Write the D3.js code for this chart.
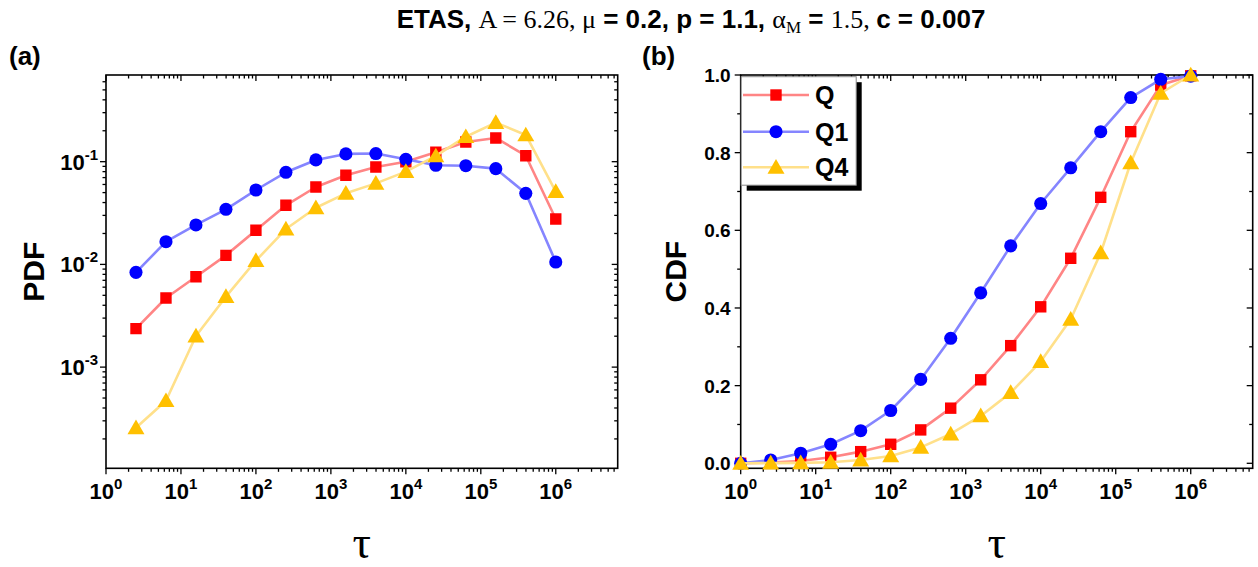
<!DOCTYPE html>
<html><head><meta charset="utf-8">
<script src="https://cdn.jsdelivr.net/npm/d3@7"></script>
<style>
html,body{margin:0;padding:0;background:#fff;}
svg{display:block;}
</style></head>
<body>
<svg id="chart" width="1258" height="567"></svg>
<script>
// ---------------- data ----------------
const tauPDF = [2.512, 6.310, 15.85, 39.81, 100, 251.2, 631.0, 1585, 3981, 10000, 25119, 63096, 158489, 398107, 1000000];
const pdfQ  = [0.00237, 0.00471, 0.00759, 0.01225, 0.0215, 0.0376, 0.0567, 0.0737, 0.0888, 0.100, 0.1235, 0.1556, 0.1703, 0.1143, 0.0277];
const pdfQ1 = [0.00837, 0.01663, 0.0242, 0.0344, 0.0530, 0.0788, 0.104, 0.119, 0.120, 0.1055, 0.0922, 0.0914, 0.0855, 0.0492, 0.01055];
const pdfQ4 = [0.000257, 0.000471, 0.00201, 0.00485, 0.01087, 0.0221, 0.0356, 0.0492, 0.0615, 0.080, 0.1137, 0.175, 0.240, 0.182, 0.0511];

const tauCDF = [1, 2.512, 6.310, 15.85, 39.81, 100, 251.2, 631.0, 1585, 3981, 10000, 25119, 63096, 158489, 398107, 1000000];
const cdfQ  = [0.0, 0.002, 0.006, 0.0155, 0.030, 0.049, 0.086, 0.142, 0.215, 0.303, 0.403, 0.528, 0.685, 0.854, 0.974, 0.998];
const cdfQ1 = [0.0, 0.0085, 0.026, 0.049, 0.084, 0.136, 0.216, 0.322, 0.439, 0.560, 0.669, 0.761, 0.854, 0.942, 0.989, 0.997];
const cdfQ4 = [0.0, 0.0005, 0.001, 0.0026, 0.0085, 0.019, 0.041, 0.0755, 0.122, 0.182, 0.262, 0.371, 0.542, 0.774, 0.953, 1.0];

const seriesNames = ["Q", "Q1", "Q4"];
const pdfTickLabels = ["-1", "-2", "-3"];
const cdfTickLabels = ["0.0", "0.2", "0.4", "0.6", "0.8", "1.0"];
const xTickExp = ["0", "1", "2", "3", "4", "5", "6"];

// ---------------- styles ----------------
const styles = {
  Q:  {marker: "#ff0000", line: "#ff8585", shape: "square"},
  Q1: {marker: "#0000ff", line: "#8585ff", shape: "circle"},
  Q4: {marker: "#ffc000", line: "#ffe08a", shape: "triangle"}
};
const SANS = "Arial, 'Liberation Sans', Helvetica, sans-serif";
const SERIF = "'Times New Roman', 'Liberation Serif', serif";

const svg = d3.select("#chart");

// ---------------- title ----------------
const title = svg.append("text").attr("x", 691).attr("y", 28)
  .attr("text-anchor", "middle").attr("font-size", 26).attr("fill", "#000");
function tsp(txt, font, bold, extra) {
  const t = title.append("tspan").text(txt).attr("font-family", font)
    .attr("font-weight", bold ? "bold" : "normal");
  if (extra) extra(t);
  return t;
}
tsp("ETAS, ", SANS, true);
tsp("A = 6.26, \u03bc", SERIF, false);
tsp(" = 0.2, p = 1.1, ", SANS, true);
tsp("\u03b1", SERIF, false);
tsp("M", SERIF, false, t => t.attr("font-size", 17).attr("dy", 5));
tsp(" = ", SANS, true, t => t.attr("dy", -5));
tsp("1.5, ", SERIF, false);
tsp("c = 0.007", SANS, true);

// ---------------- helpers ----------------
function markerPath(shape) {
  if (shape === "square") return d3.symbol().type(d3.symbolSquare).size(130)();
  if (shape === "circle") return d3.symbol().type(d3.symbolCircle).size(135)();
  return d3.symbol().type(d3.symbolTriangle).size(125)();
}

function logXAxis(g, x, y0, y1) {
  const ticks = x.ticks();
  const isMajor = v => Math.abs(Math.log10(v) - Math.round(Math.log10(v))) < 1e-9;
  g.selectAll(".xb").data(ticks).join("line")
    .attr("x1", d => x(d)).attr("x2", d => x(d))
    .attr("y1", y0).attr("y2", d => y0 + (isMajor(d) ? 6 : 3.5))
    .attr("stroke", "#000").attr("stroke-width", 1.3);
  g.selectAll(".xt").data(ticks).join("line")
    .attr("x1", d => x(d)).attr("x2", d => x(d))
    .attr("y1", y1).attr("y2", d => y1 + (isMajor(d) ? 6 : 3.5))
    .attr("stroke", "#000").attr("stroke-width", 1.3);
  const majors = ticks.filter(isMajor);
  majors.forEach((v, i) => {
    const t = g.append("text").attr("x", x(v)).attr("y", 499)
      .attr("text-anchor", "middle").attr("font-family", SANS)
      .attr("font-weight", "bold").attr("font-size", 22);
    t.append("tspan").text("10");
    t.append("tspan").text(xTickExp[i]).attr("font-size", 15).attr("dy", -10);
  });
}

function frame(g, x0, x1, y0, y1) {
  g.append("rect").attr("x", x0).attr("y", y1).attr("width", x1 - x0).attr("height", y0 - y1)
    .attr("fill", "none").attr("stroke", "#000").attr("stroke-width", 1.6);
}

function drawSeries(g, x, y, xs, vals, name) {
  const st = styles[name];
  const pts = xs.map((v, i) => [x(v), y(vals[i])]);
  g.append("path").attr("d", d3.line()(pts)).attr("fill", "none")
    .attr("stroke", st.line).attr("stroke-width", 2.6).attr("stroke-linejoin", "round");
  g.selectAll(null).data(pts).join("path")
    .attr("d", markerPath(st.shape))
    .attr("transform", d => `translate(${d[0]},${d[1] + (st.shape === "triangle" ? 1.5 : 0)})`)
    .attr("fill", st.marker);
}

// ---------------- panel (a) ----------------
{
  const L = 106, R = 617.7, T = 75, B = 468.3;
  const x = d3.scaleLog().domain([1, 6.7e6]).range([L, R]);
  const y = d3.scaleLog().domain([1.035e-4, 0.698]).range([B, T]);
  const g = svg.append("g");
  const clipId = "clipA";
  svg.append("clipPath").attr("id", clipId).append("rect")
    .attr("x", L).attr("y", T).attr("width", R - L).attr("height", B - T);

  const yt = y.ticks();
  const isMajor = v => Math.abs(Math.log10(v) - Math.round(Math.log10(v))) < 1e-9;
  g.selectAll(".yl").data(yt).join("line")
    .attr("x1", L).attr("x2", d => L - (isMajor(d) ? 6 : 3.5))
    .attr("y1", d => y(d)).attr("y2", d => y(d)).attr("stroke", "#000").attr("stroke-width", 1.3);
  g.selectAll(".yr").data(yt).join("line")
    .attr("x1", R).attr("x2", d => R - (isMajor(d) ? 6 : 3.5))
    .attr("y1", d => y(d)).attr("y2", d => y(d)).attr("stroke", "#000").attr("stroke-width", 1.3);
  const ymaj = yt.filter(isMajor).sort((a, b) => b - a);
  ymaj.forEach((v, i) => {
    const t = g.append("text").attr("x", L - 8).attr("y", y(v) + 8)
      .attr("text-anchor", "end").attr("font-family", SANS)
      .attr("font-weight", "bold").attr("font-size", 22);
    t.append("tspan").text("10");
    t.append("tspan").text(pdfTickLabels[i]).attr("font-size", 15).attr("dy", -10);
  });

  logXAxis(g, x, B, T);
  frame(g, L, R, B, T);

  const gp = svg.append("g").attr("clip-path", `url(#${clipId})`);
  drawSeries(gp, x, y, tauPDF, pdfQ, "Q");
  drawSeries(gp, x, y, tauPDF, pdfQ1, "Q1");
  drawSeries(gp, x, y, tauPDF, pdfQ4, "Q4");

  svg.append("text").attr("transform", `translate(44,${(T + B) / 2}) rotate(-90)`)
    .attr("text-anchor", "middle").attr("font-family", SANS).attr("font-weight", "bold")
    .attr("font-size", 30).text("PDF");
  svg.append("text").attr("x", (L + R) / 2).attr("y", 558).attr("text-anchor", "middle")
    .attr("font-family", SERIF).attr("font-size", 46).text("\u03c4");
  svg.append("text").attr("x", 9).attr("y", 65).attr("font-family", SANS)
    .attr("font-weight", "bold").attr("font-size", 26).text("(a)");
}

// ---------------- panel (b) ----------------
{
  const L = 740.7, R = 1252.7, T = 75, B = 468.3;
  const x = d3.scaleLog().domain([1, 6.7e6]).range([L, R]);
  const y = d3.scaleLinear().domain([-0.01288, 1.0]).range([B, T]);
  const g = svg.append("g");

  const yt = d3.range(0, 11).map(i => i / 10);
  const isMajor = v => Math.abs(v * 5 - Math.round(v * 5)) < 1e-9;
  g.selectAll(".yl").data(yt).join("line")
    .attr("x1", L).attr("x2", d => L - (isMajor(d) ? 6 : 3.5))
    .attr("y1", d => y(d)).attr("y2", d => y(d)).attr("stroke", "#000").attr("stroke-width", 1.3);
  g.selectAll(".yr").data(yt).join("line")
    .attr("x1", R).attr("x2", d => R - (isMajor(d) ? 6 : 3.5))
    .attr("y1", d => y(d)).attr("y2", d => y(d)).attr("stroke", "#000").attr("stroke-width", 1.3);
  yt.filter(isMajor).forEach((v, i) => {
    g.append("text").attr("x", L - 10).attr("y", y(v) + 7)
      .attr("text-anchor", "end").attr("font-family", SANS)
      .attr("font-weight", "bold").attr("font-size", 19).text(cdfTickLabels[i]);
  });

  logXAxis(g, x, B, T);
  frame(g, L, R, B, T);

  const gp = svg.append("g");
  drawSeries(gp, x, y, tauCDF, cdfQ, "Q");
  drawSeries(gp, x, y, tauCDF, cdfQ1, "Q1");
  drawSeries(gp, x, y, tauCDF, cdfQ4, "Q4");

  // legend
  const lg = svg.append("g");
  const lx = L + 0.5, ly = 76.7, lw = 115, lh = 108.5;
  lg.append("rect").attr("x", lx + 5.5).attr("y", ly + 5.5).attr("width", lw).attr("height", lh).attr("fill", "#000");
  lg.append("rect").attr("x", lx).attr("y", ly).attr("width", lw).attr("height", lh)
    .attr("fill", "#fff").attr("stroke", "#888").attr("stroke-width", 1);
  const rowY = [95, 131.7, 167.3];
  seriesNames.forEach((name, i) => {
    const st = styles[name];
    lg.append("line").attr("x1", 743).attr("x2", 809).attr("y1", rowY[i]).attr("y2", rowY[i])
      .attr("stroke", st.line).attr("stroke-width", 2.6);
    lg.append("path").attr("d", markerPath(st.shape))
      .attr("transform", `translate(776,${rowY[i] + (st.shape === "triangle" ? 1.5 : 0)})`).attr("fill", st.marker);
    lg.append("text").attr("x", 815).attr("y", rowY[i] + 9).attr("font-family", SANS)
      .attr("font-weight", "bold").attr("font-size", 25).text(name);
  });

  svg.append("text").attr("transform", `translate(686,${(T + B) / 2}) rotate(-90)`)
    .attr("text-anchor", "middle").attr("font-family", SANS).attr("font-weight", "bold")
    .attr("font-size", 30).text("CDF");
  svg.append("text").attr("x", (L + R) / 2).attr("y", 558).attr("text-anchor", "middle")
    .attr("font-family", SERIF).attr("font-size", 46).text("\u03c4");
  svg.append("text").attr("x", 642).attr("y", 65).attr("font-family", SANS)
    .attr("font-weight", "bold").attr("font-size", 26).text("(b)");
}
</script>
</body></html>
